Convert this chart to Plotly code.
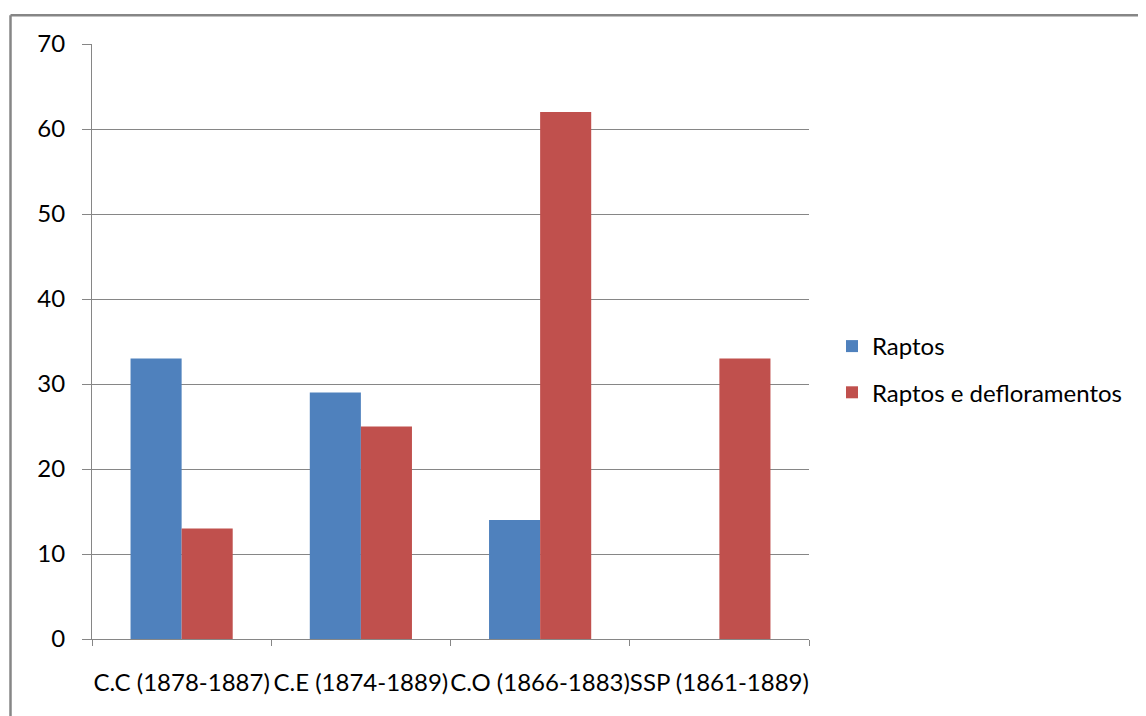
import plotly.graph_objects as go

categories = ["C.C (1878-1887)", "C.E (1874-1889)", "C.O (1866-1883)", "SSP (1861-1889)"]
raptos = [33, 29, 14, None]
raptos_defl = [13, 25, 62, 33]
y_ticks = [0, 10, 20, 30, 40, 50, 60, 70]

OFF = 8  # default page body margin
W, H = 1146 - OFF, 716 - OFF
L, R, T, B = 92 - OFF, 809 - OFF, 44 - OFF, 639 - OFF
grey = "#868686"
font = "Lato"
fs = 24

fig = go.Figure()
fig.add_trace(go.Bar(name="Raptos", x=categories, y=raptos, marker_color="#4F81BD",
                     marker_line_width=0, legendgroup="a"))
fig.add_trace(go.Bar(name="Raptos e defloramentos", x=categories, y=raptos_defl,
                     marker_color="#C0504D", marker_line_width=0, legendgroup="b"))

pw, ph = R - L, B - T
def px(x): return (x - OFF - L) / pw
def py(y): return (B - (y - OFF)) / ph

fig.update_layout(
    width=W, height=H,
    margin=dict(l=L, r=W - R, t=T, b=H - B),
    paper_bgcolor="white", plot_bgcolor="white",
    barmode="group", bargap=0.43, bargroupgap=0,
    font=dict(family=font, size=fs, color="#000000"),
    showlegend=True,
    legend=dict(x=px(832), y=py(369.5), xanchor="left", yanchor="middle",
                font=dict(family=font, size=fs), tracegroupgap=12,
                itemwidth=30, bgcolor="rgba(0,0,0,0)"),
    shapes=[
        dict(type="line", xref="paper", yref="paper", x0=px(10.5), x1=px(1160), y0=py(15.3), y1=py(15.3),
             line=dict(color=grey, width=2.5)),
        dict(type="line", xref="paper", yref="paper", x0=px(10.5), x1=px(10.5), y0=py(15.3), y1=py(730),
             line=dict(color=grey, width=2.5)),
    ],
)
fig.update_yaxes(range=[0, 70], tickvals=y_ticks, showgrid=True, gridcolor=grey, gridwidth=1,
                 showline=True, linecolor=grey, linewidth=1, ticks="outside", ticklen=9,
                 tickcolor=grey, zeroline=False, tickfont=dict(family=font, size=fs),
                 ticklabelstandoff=12)
fig.update_xaxes(showline=True, linecolor=grey, linewidth=1, ticks="outside", ticklen=6,
                 tickcolor=grey, tickson="boundaries", showgrid=False, tickangle=0,
                 tickfont=dict(family=font, size=fs), ticklabelstandoff=22)

fig.write_html("out.html")
